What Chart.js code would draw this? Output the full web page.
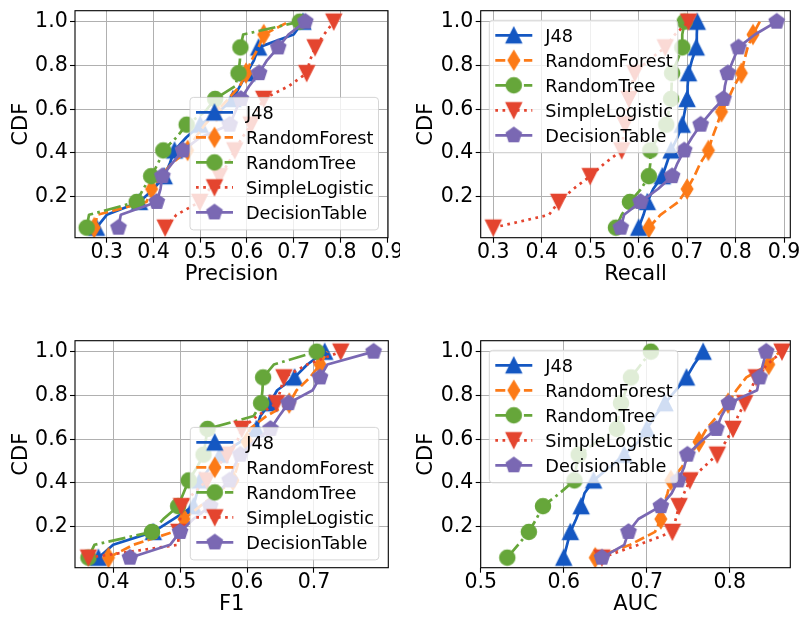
<!DOCTYPE html>
<html><head><meta charset="utf-8">
<script src="https://cdn.jsdelivr.net/npm/chart.js@4.4.0/dist/chart.umd.min.js"></script>
<style>
html,body{margin:0;padding:0;background:#fff;overflow:hidden;width:801px;height:619px;}
canvas{position:absolute;}
</style></head><body>
<canvas id="c0" width="400" height="289" style="left:0;top:0"></canvas>
<canvas id="c1" width="401" height="289" style="left:400px;top:0"></canvas>
<canvas id="c2" width="400" height="289" style="left:0;top:330px"></canvas>
<canvas id="c3" width="401" height="289" style="left:400px;top:330px"></canvas>
<script>
// ---- data ----
const seriesNames = ['J48','RandomForest','RandomTree','SimpleLogistic','DecisionTable'];
const cdfLevels = [0.0588,0.1176,0.1765,0.2353,0.2941,0.3529,0.4118,0.4706,0.5294,0.5882,0.6471,0.7059,0.7647,0.8235,0.8824,0.9412,1.0];
const cdfTicks = [0.2,0.4,0.6,0.8,1.0];
const precisionTicks = [0.3,0.4,0.5,0.6,0.7,0.8,0.9];
const recallTicks = [0.3,0.4,0.5,0.6,0.7,0.8,0.9];
const f1Ticks = [0.4,0.5,0.6,0.7];
const aucTicks = [0.5,0.6,0.7,0.8];

const precisionJ48 = [0.278,0.30,0.37,0.40,0.423,0.435,0.445,0.47,0.50,0.54,0.57,0.585,0.60,0.615,0.625,0.70,0.72];
const precisionRF  = [0.273,0.28,0.385,0.396,0.415,0.44,0.473,0.49,0.51,0.535,0.56,0.585,0.598,0.61,0.625,0.636,0.69];
const precisionRT  = [0.257,0.262,0.364,0.378,0.395,0.41,0.421,0.449,0.471,0.51,0.532,0.575,0.582,0.585,0.586,0.592,0.713];
const precisionSL  = [0.425,0.449,0.499,0.52,0.541,0.56,0.574,0.59,0.609,0.62,0.636,0.69,0.728,0.735,0.746,0.765,0.786];
const precisionDT  = [0.325,0.33,0.407,0.415,0.419,0.44,0.463,0.50,0.563,0.575,0.587,0.605,0.626,0.643,0.667,0.689,0.725];

const recallJ48 = [0.60,0.61,0.618,0.63,0.649,0.658,0.667,0.68,0.69,0.695,0.70,0.701,0.703,0.71,0.719,0.72,0.721];
const recallRF  = [0.621,0.645,0.682,0.70,0.715,0.727,0.744,0.752,0.762,0.771,0.785,0.797,0.812,0.818,0.825,0.836,0.85];
const recallRT  = [0.553,0.565,0.582,0.605,0.621,0.624,0.624,0.64,0.657,0.662,0.667,0.668,0.669,0.68,0.69,0.69,0.695];
const recallSL  = [0.30,0.415,0.435,0.465,0.50,0.53,0.565,0.568,0.572,0.575,0.58,0.585,0.592,0.62,0.655,0.675,0.703];
const recallDT  = [0.563,0.57,0.604,0.64,0.669,0.68,0.694,0.71,0.728,0.75,0.775,0.778,0.784,0.795,0.806,0.84,0.885];

const f1J48 = [0.378,0.40,0.46,0.49,0.52,0.525,0.53,0.545,0.56,0.59,0.614,0.62,0.634,0.645,0.671,0.69,0.716];
const f1RF  = [0.393,0.43,0.49,0.506,0.53,0.555,0.579,0.585,0.59,0.60,0.604,0.629,0.663,0.674,0.694,0.709,0.72];
const f1RT  = [0.363,0.372,0.458,0.475,0.497,0.505,0.513,0.525,0.535,0.538,0.541,0.61,0.621,0.623,0.624,0.64,0.704];
const f1SL  = [0.363,0.497,0.498,0.50,0.502,0.52,0.54,0.555,0.57,0.585,0.592,0.615,0.644,0.65,0.655,0.69,0.74];
const f1DT  = [0.425,0.485,0.50,0.52,0.545,0.555,0.574,0.58,0.59,0.61,0.635,0.648,0.662,0.698,0.709,0.72,0.789];

const aucJ48 = [0.60,0.604,0.608,0.615,0.621,0.625,0.636,0.655,0.673,0.69,0.70,0.71,0.722,0.735,0.748,0.757,0.768];
const aucRF  = [0.638,0.68,0.71,0.717,0.72,0.725,0.729,0.742,0.753,0.763,0.772,0.785,0.798,0.808,0.82,0.847,0.86];
const aucRT  = [0.532,0.545,0.558,0.567,0.575,0.595,0.613,0.615,0.618,0.64,0.664,0.666,0.669,0.675,0.681,0.693,0.705];
const aucSL  = [0.646,0.69,0.731,0.735,0.739,0.745,0.752,0.768,0.785,0.795,0.804,0.81,0.818,0.825,0.832,0.845,0.863];
const aucDT  = [0.646,0.673,0.678,0.69,0.717,0.73,0.738,0.745,0.749,0.765,0.784,0.79,0.799,0.833,0.836,0.84,0.844];

// ---- styles ----
const FONT = 'DejaVu Sans';
const styles = [
  {color:'#1457c2', shape:'up',     dash:[],               marks:[0,2,4,6,8,10,12,14,16]},
  {color:'#fc7a17', shape:'thin',   dash:[10,4.3],         marks:[0,3,6,9,12,15]},
  {color:'#66a63a', shape:'circle', dash:[17.3,4.3,2.7,4.3], marks:[0,2,4,6,8,10,12,14,16]},
  {color:'#e4452f', shape:'down',   dash:[2.7,4.5],        marks:[0,2,4,6,8,10,12,14,16]},
  {color:'#7a68b3', shape:'pent',   dash:[],               marks:[0,2,4,6,8,10,12,14,16]}
];
const LW = 2.7;

function markerCanvas(shape, color){
  const S = 24, c = document.createElement('canvas'); c.width = S; c.height = S;
  const g = c.getContext('2d'); g.translate(S/2, S/2);
  g.fillStyle = color; g.strokeStyle = color; g.lineWidth = 1.3; g.lineJoin = 'miter';
  g.beginPath();
  const h = 7.7;
  if (shape === 'up'){ g.moveTo(0,-h); g.lineTo(h,h); g.lineTo(-h,h); }
  else if (shape === 'down'){ g.moveTo(0,h); g.lineTo(h,-h); g.lineTo(-h,-h); }
  else if (shape === 'circle'){ g.arc(0,0,7.6,0,2*Math.PI); }
  else if (shape === 'thin'){ g.moveTo(0,-9.6); g.lineTo(5.8,0); g.lineTo(0,9.6); g.lineTo(-5.8,0); }
  else if (shape === 'pent'){ for(let k=0;k<5;k++){ const a=-Math.PI/2+k*2*Math.PI/5; const px=8*Math.cos(a), py=8*Math.sin(a); if(k===0) g.moveTo(px,py); else g.lineTo(px,py);} }
  g.closePath(); g.fill(); g.stroke();
  return c;
}
const markers = styles.map(s => markerCanvas(s.shape, s.color));

function makeDatasets(arrs){
  return arrs.map((xs, k) => ({
    label: seriesNames[k],
    data: xs.map((x, i) => ({x: x, y: cdfLevels[i]})),
    borderColor: styles[k].color,
    backgroundColor: styles[k].color,
    borderWidth: LW,
    borderDash: styles[k].dash,
    borderCapStyle: 'butt',
    borderJoinStyle: 'round',
    tension: 0, fill: false,
    pointStyle: markers[k],
    pointRadius: ctx => styles[k].marks.includes(ctx.dataIndex) ? 8 : 0,
    pointHoverRadius: 0,
    order: 5 - k
  }));
}

function framePlugin(legendPos){
  return {
    id: 'frameLegend',
    afterDatasetsDraw(chart){
      const ca = chart.chartArea, ctx = chart.ctx;
      ctx.save();
      ctx.strokeStyle = '#000'; ctx.lineWidth = 1.1;
      ctx.strokeRect(ca.left, ca.top, ca.right - ca.left, ca.bottom - ca.top);
      // legend
      const W = 188.5, H = 132.5;
      let left, top;
      if (legendPos === 'lr'){ left = ca.right - 9.5 - W; top = ca.bottom - 7.8 - H; }
      else { left = ca.left + 8.6; top = ca.top + 9.6; }
      const r = 3.4;
      ctx.beginPath();
      ctx.moveTo(left + r, top); ctx.lineTo(left + W - r, top); ctx.arcTo(left + W, top, left + W, top + r, r);
      ctx.lineTo(left + W, top + H - r); ctx.arcTo(left + W, top + H, left + W - r, top + H, r);
      ctx.lineTo(left + r, top + H); ctx.arcTo(left, top + H, left, top + H - r, r);
      ctx.lineTo(left, top + r); ctx.arcTo(left, top, left + r, top, r);
      ctx.closePath();
      ctx.fillStyle = 'rgba(255,255,255,0.8)'; ctx.fill();
      ctx.strokeStyle = 'rgba(204,204,204,0.8)'; ctx.lineWidth = 1; ctx.stroke();
      for (let k = 0; k < seriesNames.length; k++){
        const cy = top + 15 + 25 * k;
        ctx.beginPath();
        ctx.setLineDash(styles[k].dash);
        ctx.lineCap = 'butt';
        ctx.strokeStyle = styles[k].color; ctx.lineWidth = LW;
        ctx.moveTo(left + 6, cy); ctx.lineTo(left + 43, cy); ctx.stroke();
        ctx.setLineDash([]);
        Chart.helpers.drawPoint(ctx, {pointStyle: markers[k], radius: 8, rotation: 0, borderWidth: 0}, left + 24.5, cy);
        ctx.fillStyle = '#000';
        ctx.font = '17.7px "' + FONT + '"';
        ctx.textAlign = 'left'; ctx.textBaseline = 'alphabetic';
        ctx.fillText(seriesNames[k], left + 56, cy + 6.4);
      }
      ctx.restore();
    }
  };
}

function makeChart(id, arrs, xTicks, xmin, xmax, xTitle, yW, padRight, yTitlePad, legendPos){
  return new Chart(document.getElementById(id), {
    type: 'line',
    data: {datasets: makeDatasets(arrs)},
    options: {
      responsive: false, animation: false, devicePixelRatio: 1, events: [],
      layout: {padding: {top: 5, right: padRight, left: 0, bottom: 0}},
      plugins: {legend: {display: false}, tooltip: {enabled: false}},
      scales: {
        x: {
          type: 'linear', min: xmin, max: xmax,
          afterBuildTicks: s => { s.ticks = xTicks.map(v => ({value: v})); },
          afterFit: s => { s.height = 51.3; s.paddingLeft = 0; s.paddingRight = 0; s.paddingTop = 0; s.paddingBottom = 0; },
          grid: {color: '#b0b0b0', lineWidth: 1, tickColor: '#000', tickWidth: 1.1, tickLength: 5, drawTicks: true},
          border: {display: false},
          ticks: {font: {family: FONT, size: 20.5, lineHeight: 1}, color: '#000', padding: 0, maxRotation: 0, autoSkip: false,
                  callback: v => Number(v).toFixed(1)},
          title: {display: true, text: xTitle, font: {family: FONT, size: 21, lineHeight: 1}, color: '#000', padding: {top: 0, bottom: 3.5}}
        },
        y: {
          type: 'linear', min: 0.013, max: 1.05,
          afterBuildTicks: s => { s.ticks = cdfTicks.map(v => ({value: v})); },
          afterFit: s => { s.width = yW; s.paddingLeft = 0; s.paddingRight = 0; s.paddingTop = 0; s.paddingBottom = 0; },
          grid: {color: '#b0b0b0', lineWidth: 1, tickColor: '#000', tickWidth: 1.1, tickLength: 5, drawTicks: true},
          border: {display: false},
          ticks: {font: {family: FONT, size: 20.5, lineHeight: 1}, color: '#000', padding: 2.3, autoSkip: false,
                  callback: v => Number(v).toFixed(1)},
          title: {display: true, text: 'CDF', font: {family: FONT, size: 21, lineHeight: 1}, color: '#000', padding: {top: yTitlePad, bottom: 0}}
        }
      }
    },
    plugins: [framePlugin(legendPos)]
  });
}

makeChart('c0', [precisionJ48, precisionRF, precisionRT, precisionSL, precisionDT], precisionTicks, 0.232, 0.902, 'Precision', 75, 12, 11.5, 'lr');
makeChart('c1', [recallJ48, recallRF, recallRT, recallSL, recallDT], recallTicks, 0.274, 0.913, 'Recall', 80.7, 8.7, 16.5, 'ul');
makeChart('c2', [f1J48, f1RF, f1RT, f1SL, f1DT], f1Ticks, 0.343, 0.811, 'F1', 75, 11.7, 11.5, 'lr');
makeChart('c3', [aucJ48, aucRF, aucRT, aucSL, aucDT], aucTicks, 0.5, 0.873, 'AUC', 80.7, 6, 16.5, 'ul');
</script>
</body></html>
